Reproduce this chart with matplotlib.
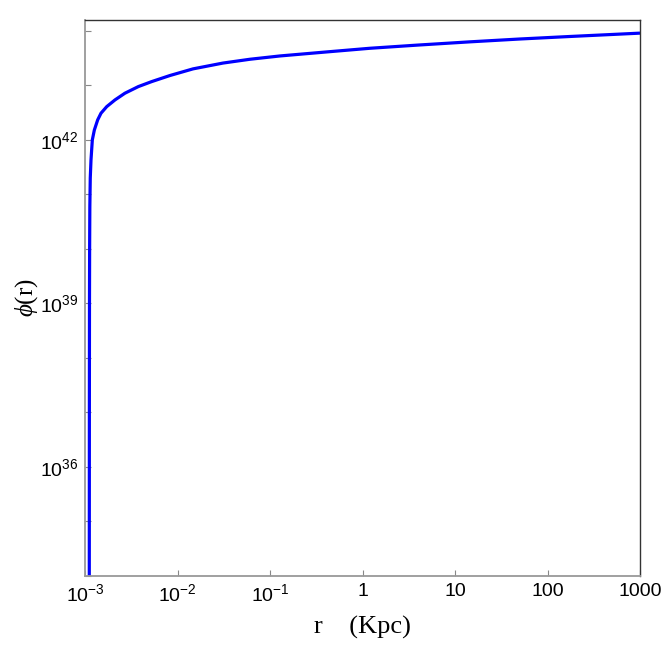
import matplotlib
matplotlib.use("Agg")
import matplotlib.pyplot as plt
from matplotlib.ticker import FixedLocator, FixedFormatter, NullLocator

# points (r in Kpc, phi)
r_vals = [1.112e-3, 1.115e-3, 1.118e-3, 1.122e-3, 1.128e-3, 1.14e-3, 1.161e-3,
          1.2e-3, 1.262e-3, 1.371e-3, 1.489e-3, 1.717e-3, 2.11e-3, 2.70e-3,
          3.77e-3, 5.26e-3, 8.3e-3, 0.0147, 0.031, 0.0608, 0.128,
          0.4, 1.2, 4.0, 14.5, 50, 175, 500, 1000]
phi_vals = [1e33, 1e37, 1e39, 1e40, 6e40, 2e41, 4.3e41,
            1e42, 1.52e42, 2.33e42, 3.09e42, 4.08e42, 5.42e42, 7.19e42,
            9.51e42, 1.175e43, 1.52e43, 2.01e43, 2.57e43, 3.02e43, 3.47e43,
            4.1e43, 4.8e43, 5.5e43, 6.3e43, 7.1e43, 7.9e43, 8.6e43, 9.1e43]

x_ticks = [1e-3, 1e-2, 1e-1, 1, 10, 100, 1000]
x_labels = ["$\\mathregular{10^{-3}}$", "$\\mathregular{10^{-2}}$", "$\\mathregular{10^{-1}}$",
            "1", "10", "100", "1000"]
y_ticks = [10.0**k for k in range(34, 45)]
y_labels = ["$\\mathregular{10^{%d}}$" % k if k % 3 == 0 else "" for k in range(34, 45)]

plt.rcParams['font.family'] = ['Liberation Sans', 'DejaVu Sans']
plt.rcParams['mathtext.fontset'] = 'custom'
plt.rcParams['mathtext.rm'] = 'Liberation Sans'
plt.rcParams['mathtext.it'] = 'Liberation Serif:italic'

fig = plt.figure(figsize=(6.64, 6.64), dpi=100)
ax = fig.add_axes([85/664, 88/664, 555/664, 556/664])

ax.plot(r_vals, phi_vals, color=(0, 0, 1), lw=2.3, solid_capstyle='butt')
ax.set_xscale('log')
ax.set_yscale('log')
ax.set_xlim(1e-3, 1000)
ax.set_ylim(1e34, 10**44.2)

ax.xaxis.set_major_locator(FixedLocator(x_ticks))
ax.xaxis.set_major_formatter(FixedFormatter(x_labels))
ax.xaxis.set_minor_locator(NullLocator())
ax.yaxis.set_major_locator(FixedLocator(y_ticks))
ax.yaxis.set_major_formatter(FixedFormatter(y_labels))
ax.yaxis.set_minor_locator(NullLocator())

ax.tick_params(direction='in', length=4, width=0.8, color='#888888',
               labelsize=14, pad=5)
for s in ['left', 'bottom']:
    ax.spines[s].set_color('#999999')
    ax.spines[s].set_linewidth(1.3)
for s in ['top', 'right']:
    ax.spines[s].set_color('#333333')
    ax.spines[s].set_linewidth(1.0)

ax.set_xlabel("r    (Kpc)", family='Liberation Serif', fontsize=19, labelpad=8)
ax.set_ylabel("$\\phi$(r)", family='Liberation Serif', fontsize=18, labelpad=0)

fig.savefig("out.png", dpi=100)
